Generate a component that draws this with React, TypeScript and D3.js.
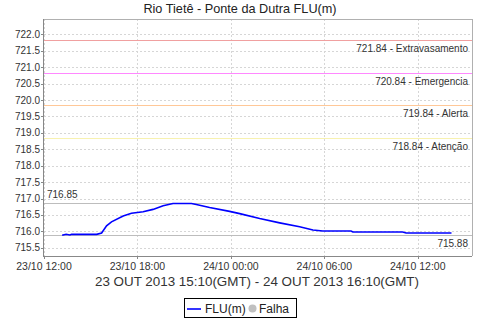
import React from "react";
import * as d3 from "d3";

const times = [
  "2013-10-23 13:10", "2013-10-23 13:25", "2013-10-23 13:40", "2013-10-23 13:46",
  "2013-10-23 15:23", "2013-10-23 15:42", "2013-10-23 16:01", "2013-10-23 16:20",
  "2013-10-23 17:05", "2013-10-23 17:37", "2013-10-23 18:22", "2013-10-23 19:00",
  "2013-10-23 19:39", "2013-10-23 20:17", "2013-10-23 21:28", "2013-10-23 21:47",
  "2013-10-23 22:38", "2013-10-23 23:55", "2013-10-24 00:34", "2013-10-24 01:51",
  "2013-10-24 03:08", "2013-10-24 04:25", "2013-10-24 05:16", "2013-10-24 05:54",
  "2013-10-24 07:43", "2013-10-24 07:50", "2013-10-24 11:02", "2013-10-24 11:15",
  "2013-10-24 14:10",
];
const levels = [
  715.88, 715.91, 715.89, 715.91,
  715.91, 715.95, 716.17, 716.29,
  716.47, 716.55, 716.60, 716.67,
  716.78, 716.85, 716.85, 716.82,
  716.73, 716.61, 716.54, 716.39,
  716.26, 716.14, 716.04, 716.01,
  716.01, 715.98, 715.98, 715.95,
  715.95,
];
const thresholdValues = [721.84, 720.84, 719.84, 718.84];
const thresholdNames = ["Extravasamento", "Emergencia", "Alerta", "Atenção"];
const thresholdColors = ["#f0a0a0", "#ff88ff", "#ffc898", "#f8f2b0"];
const yTicks = [715.5, 716.0, 716.5, 717.0, 717.5, 718.0, 718.5, 719.0, 719.5, 720.0, 720.5, 721.0, 721.5, 722.0];
const xTickLabels = ["2013-10-23 12:00", "2013-10-23 18:00", "2013-10-24 00:00", "2013-10-24 06:00", "2013-10-24 12:00"];
const title = "Rio Tietê - Ponte da Dutra FLU(m)";
const subtitle = "23 OUT 2013 15:10(GMT) - 24 OUT 2013 16:10(GMT)";
const seriesName = "FLU(m)";
const failName = "Falha";

const parse = d3.timeParse("%Y-%m-%d %H:%M");
const fmt = d3.timeFormat("%d/%m %H:%M");

export default function App() {
  const W = 480, H = 320;
  const L = 44, R = 472, T = 19, B = 256;
  const font = "'Liberation Sans', Arial, sans-serif";
  const x = d3.scaleTime()
    .domain([parse("2013-10-23 12:00")!, parse("2013-10-24 15:29")!])
    .range([L, R]);
  const y = d3.scaleLinear().domain([715.25, 722.47]).range([B, T]);
  const data = times.map((t, i) => ({ t: parse(t)!, v: levels[i] }));
  const line = d3.line<{ t: Date; v: number }>().x(d => x(d.t)).y(d => y(d.v));
  const maxV = d3.max(levels)!;
  const minV = d3.min(levels)!;
  const xt = xTickLabels.map(s => parse(s)!);

  return (
    <svg width={W} height={H} style={{ position: "absolute", left: 0, top: 0, background: "#fff" }}>
      <rect x={0} y={0} width={W} height={H} fill="#fff" />
      <text x={240} y={12.5} textAnchor="middle" fontFamily={font} fontSize={12.7} fill="#222">{title}</text>
      {/* grid */}
      {yTicks.map((v, i) => (
        <line key={"gy" + i} x1={L} x2={R} y1={Math.round(y(v)) + 0.5} y2={Math.round(y(v)) + 0.5}
          stroke="#d6d6d6" strokeWidth={1} strokeDasharray="2,2" />
      ))}
      {xt.map((t, i) => (
        <line key={"gx" + i} x1={Math.round(x(t)) + 0.5} x2={Math.round(x(t)) + 0.5} y1={T} y2={B}
          stroke="#d6d6d6" strokeWidth={1} strokeDasharray="2,2" />
      ))}
      {/* thresholds */}
      {thresholdValues.map((v, i) => (
        <g key={"th" + i}>
          <line x1={L} x2={R} y1={Math.round(y(v)) + 0.5} y2={Math.round(y(v)) + 0.5} stroke={thresholdColors[i]} strokeWidth={1} />
          <text x={468} y={y(v) + 12} textAnchor="end" fontFamily={font} fontSize={10} fill="#333">
            {v.toFixed(2) + " - " + thresholdNames[i]}
          </text>
        </g>
      ))}
      {/* max / min lines */}
      <line x1={L} x2={R} y1={Math.round(y(maxV)) + 0.5} y2={Math.round(y(maxV)) + 0.5} stroke="#bdbdbd" />
      <text x={47} y={y(maxV) - 5} fontFamily={font} fontSize={10} fill="#333">{maxV.toFixed(2)}</text>
      <line x1={L} x2={R} y1={Math.round(y(minV)) + 0.5} y2={Math.round(y(minV)) + 0.5} stroke="#bdbdbd" />
      <text x={468} y={y(minV) + 12} textAnchor="end" fontFamily={font} fontSize={10} fill="#333">{minV.toFixed(2)}</text>
      {/* series */}
      <path d={line(data)!} fill="none" stroke="#0000ff" strokeWidth={1.6} />
      {/* border */}
      <line x1={L} x2={R} y1={T + 0.5} y2={T + 0.5} stroke="#b0b0b0" />
      <line x1={R + 0.5} x2={R + 0.5} y1={T} y2={B} stroke="#b0b0b0" />
      <line x1={L - 0.5} x2={L - 0.5} y1={T} y2={B + 1} stroke="#888" />
      <line x1={L} x2={R} y1={B + 0.5} y2={B + 0.5} stroke="#888" />
      {/* y axis */}
      {yTicks.map((v, i) => (
        <g key={"yt" + i}>
          <line x1={L - 3} x2={L - 1} y1={Math.round(y(v)) + 0.5} y2={Math.round(y(v)) + 0.5} stroke="#888" />
          <text x={L - 4} y={y(v) + 3.5} textAnchor="end" fontFamily={font} fontSize={10} fill="#333">{v.toFixed(1)}</text>
        </g>
      ))}
      {/* x axis */}
      {xt.map((t, i) => (
        <g key={"xt" + i}>
          <line x1={Math.round(x(t)) + 0.5} x2={Math.round(x(t)) + 0.5} y1={B + 1} y2={B + 3} stroke="#888" />
          <text x={x(t)} y={B + 14} textAnchor="middle" fontFamily={font} fontSize={10.5} fill="#333">{fmt(t)}</text>
        </g>
      ))}
      <text x={257} y={286} textAnchor="middle" fontFamily={font} fontSize={13.4} fill="#333">{subtitle}</text>
      {/* legend */}
      <rect x={184.5} y={298.5} width={112} height={19} fill="#fff" stroke="#000" />
      <line x1={187} x2={201} y1={309} y2={309} stroke="#0000ff" strokeWidth={1.6} />
      <text x={205} y={313} fontFamily={font} fontSize={12} fill="#222">{seriesName}</text>
      <circle cx={252.5} cy={308.5} r={4} fill="#c0c0c0" />
      <text x={259} y={313} fontFamily={font} fontSize={12} fill="#222">{failName}</text>
    </svg>
  );
}
